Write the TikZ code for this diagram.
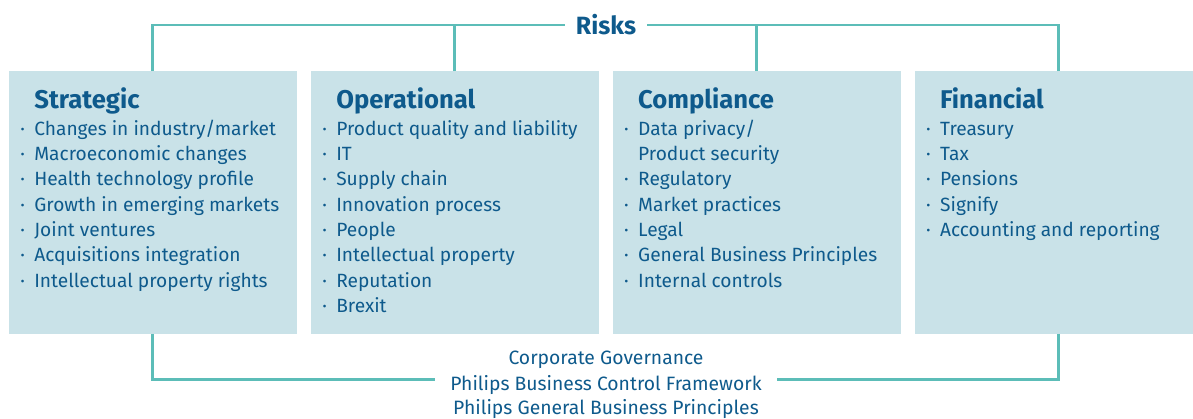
\documentclass[tikz,border=0pt]{standalone}
\usepackage{fontspec}
\setmainfont{Fira Sans}
\usetikzlibrary{positioning}
\definecolor{riskfill}{HTML}{C9E2E8}
\definecolor{risktext}{HTML}{0E5A8C}
\definecolor{riskline}{HTML}{5CBDB8}
\newcommand{\itm}[1]{\makebox[0.28cm][l]{·}#1}
\newcommand{\hd}[1]{\hspace{0.28cm}{\fontsize{14.6}{16}\selectfont\bfseries #1}}

\begin{document}
\begin{tikzpicture}[x=0.02cm, y=-0.02cm, node distance = 0.28cm,
    riskbox/.style = {rectangle, fill=riskfill,
                      minimum width=5.76cm, minimum height=5.26cm,
                      inner sep=0pt, outer sep=0pt},
    risklist/.style = {align=left, anchor=north west, inner sep=0pt,
                       font=\fontsize{10.9}{14.4}\selectfont, text=risktext},
    riskhead/.style = {font=\fontsize{14.2}{16}\selectfont\bfseries,
                       text=risktext, inner xsep=6pt},
    govtext/.style = {font=\fontsize{11}{14.4}\selectfont, text=risktext,
                      inner xsep=8.5pt, inner ysep=0pt},
    link/.style = {draw=riskline, line width=1.7pt}
                            ]
    \useasboundingbox (0,0) rectangle (1193,419);
    \clip (0,0) rectangle (1193,419);

    % the four boxes
    \node (strategic) [riskbox, anchor=north west] at (9,71) {};
    \node (operational) [riskbox, right=of strategic] {};
    \node (compliance) [riskbox, right=of operational] {};
    \node (financial) [riskbox, right=of compliance] {};

    \node (strategic-list) [risklist] at ([shift={(11,16)}]strategic.north west)
        {\hd{Strategic}\\[1pt]
         \itm{Changes in industry/market}\\
         \itm{Macroeconomic changes}\\
         \itm{Health technology profile}\\
         \itm{Growth in emerging markets}\\
         \itm{Joint ventures}\\
         \itm{Acquisitions integration}\\
         \itm{Intellectual property rights}};
    \node (operational-list) [risklist] at ([shift={(11,16)}]operational.north west)
        {\hd{Operational}\\[1pt]
         \itm{Product quality and liability}\\
         \itm{IT}\\
         \itm{Supply chain}\\
         \itm{Innovation process}\\
         \itm{People}\\
         \itm{Intellectual property}\\
         \itm{Reputation}\\
         \itm{Brexit}};
    \node (compliance-list) [risklist] at ([shift={(11,16)}]compliance.north west)
        {\hd{Compliance}\\[1pt]
         \itm{Data privacy/}\\
         \hspace{0.28cm}Product security\\
         \itm{Regulatory}\\
         \itm{Market practices}\\
         \itm{Legal}\\
         \itm{General Business Principles}\\
         \itm{Internal controls}};
    \node (financial-list) [risklist] at ([shift={(11,16)}]financial.north west)
        {\hd{Financial}\\[1pt]
         \itm{Treasury}\\
         \itm{Tax}\\
         \itm{Pensions}\\
         \itm{Signify}\\
         \itm{Accounting and reporting}};

    % top bracket
    \node (risks) [riskhead] at (606,25) {Risks};
    \draw[link] (strategic.north) |- (risks.west);
    \draw[link] (financial.north) |- (risks.east);
    \draw[link] (operational.north) -- (operational.north |- risks.west);
    \draw[link] (compliance.north) -- (compliance.north |- risks.east);

    % bottom bracket
    \node (gov1) [govtext] at (606,360) {Corporate Governance};
    \node (gov2) [govtext] at (606,385) {Philips Business Control Framework};
    \node (gov3) [govtext] at (606,409) {Philips General Business Principles};
    \draw[link] (strategic.south) |- ([yshift=3.3pt]gov2.west);
    \draw[link] (financial.south) |- ([yshift=3.3pt]gov2.east);
\end{tikzpicture}
\end{document}
